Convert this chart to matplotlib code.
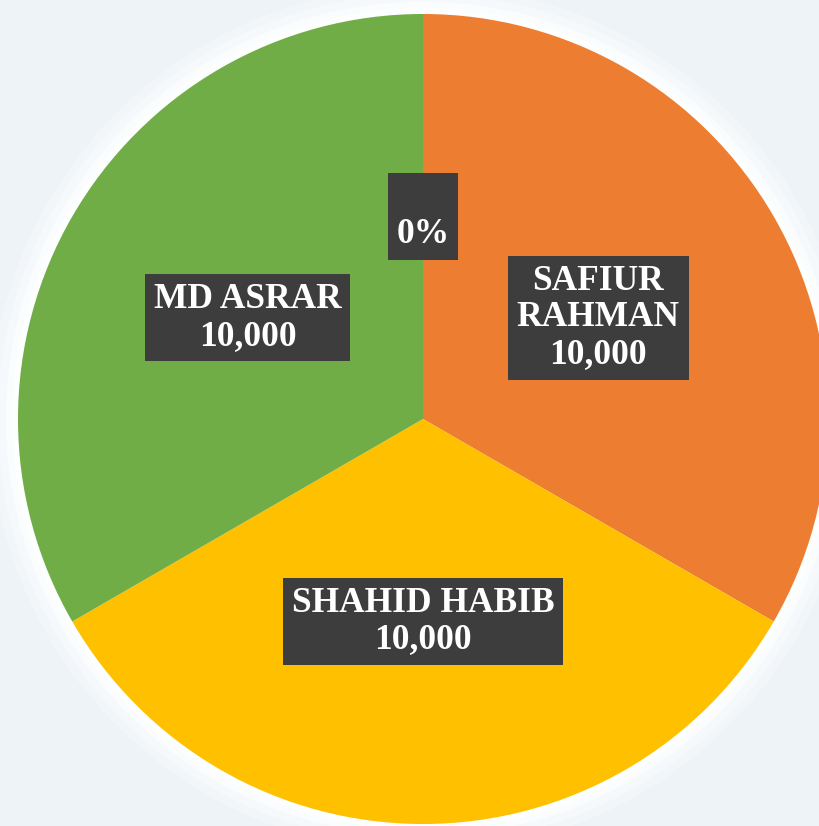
import numpy as np
import matplotlib
matplotlib.use("Agg")
import matplotlib.pyplot as plt
from matplotlib.patches import Circle

# ── Data ──────────────────────────────────────────────────────────────────────
names = ["", "SAFIUR\nRAHMAN", "SHAHID HABIB", "MD ASRAR"]
values = [0, 10000, 10000, 10000]
colors = ["#5b9bd5", "#ed7d31", "#ffc000", "#70ad47"]

labels = []
for n, v in zip(names, values):
    if v == 0:
        labels.append(" \n0%")
    else:
        labels.append(f"{n}\n{v:,}")

# ── Plot ──────────────────────────────────────────────────────────────────────
W, H = 819, 826
fig = plt.figure(figsize=(W / 100, H / 100), dpi=100)
bg = "#eef3f8"
fig.patch.set_facecolor(bg)
ax = fig.add_axes([0, 0, 1, 1])
ax.set_facecolor(bg)

# soft white glow behind the pie
for r, a in [(1.07, 0.25), (1.05, 0.35), (1.03, 0.5), (1.015, 0.7)]:
    ax.add_patch(Circle((0, 0), r, color="white", alpha=a, lw=0, zorder=0))

wedges, texts = ax.pie(
    values,
    labels=labels,
    colors=colors,
    startangle=90,
    counterclock=False,
    labeldistance=0.5,
    radius=1.0,
    wedgeprops=dict(linewidth=0, zorder=1),
)

for t in texts:
    t.set_ha("center")
    t.set_va("center")
    t.set_multialignment("center")
    t.set_fontfamily("Liberation Serif")
    t.set_fontweight("bold")
    t.set_fontsize(25.5)
    t.set_color("white")
    t.set_linespacing(1.15)
    t.set_bbox(dict(boxstyle="square,pad=0.25", facecolor="#3d3d3d",
                    edgecolor="none"))
    t.set_zorder(5)

# center at (423, 419) px, radius 405 px
s = 405.0
cx, cy = 423.0, 419.0
ax.set_aspect("auto")
ax.set_xlim(-cx / s, (W - cx) / s)
ax.set_ylim(-(H - cy) / s, cy / s)
ax.axis("off")

fig.savefig("out.png", dpi=100, facecolor=fig.get_facecolor())
